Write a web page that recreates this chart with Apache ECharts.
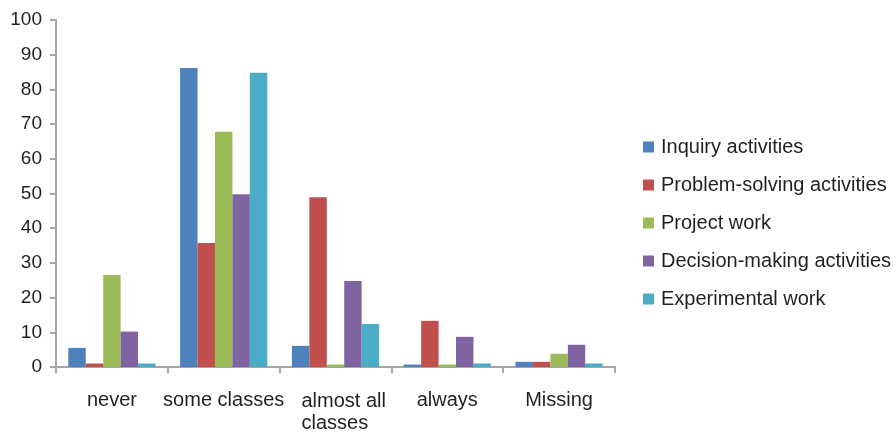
<!DOCTYPE html>
<html>
<head>
<meta charset="utf-8">
<script src="https://cdn.jsdelivr.net/npm/echarts@6/dist/echarts.min.js"></script>
<style>
  html, body { margin: 0; padding: 0; background: #fff; }
  #chart { width: 896px; height: 433px; }
</style>
</head>
<body>
<div id="chart"></div>
<script>
// Frequency categories along the x axis
const categories = ['never', 'some classes', 'almost all classes', 'always', 'Missing'];

// Percentages per activity type
const inquiry      = [5.5, 86.2, 6.1, 0.7, 1.5];
const problemSolve = [1.0, 35.7, 48.9, 13.3, 1.5];
const projectWork  = [26.5, 67.8, 0.7, 0.7, 3.8];
const decisionMake = [10.2, 49.8, 24.8, 8.7, 6.4];
const experimental = [1.0, 84.8, 12.4, 1.0, 1.0];

const seriesNames = [
  'Inquiry activities',
  'Problem-solving activities',
  'Project work',
  'Decision-making activities',
  'Experimental work'
];
const seriesData = [inquiry, problemSolve, projectWork, decisionMake, experimental];
const colors = ['#4F81BD', '#C0504D', '#9BBB59', '#8064A2', '#4BACC6'];

const yTicks = { min: 0, max: 100, interval: 10 };

const textColor = '#231f20';
const axisColor = '#a6a6a6';
const fontFamily = '"Liberation Sans", Arial, Helvetica, sans-serif';

const chart = echarts.init(document.getElementById('chart'));
chart.setOption({
  animation: false,
  color: colors,
  grid: { left: 56, right: 281, top: 20, bottom: 65, containLabel: false },
  legend: {
    orient: 'vertical',
    left: 638,
    top: 132,
    itemWidth: 11,
    itemHeight: 11,
    itemGap: 18,
    icon: 'rect',
    data: seriesNames,
    textStyle: { color: textColor, fontSize: 20, fontFamily: fontFamily, padding: [0, 0, 0, 2] }
  },
  xAxis: {
    type: 'category',
    data: categories,
    axisLine: { lineStyle: { color: axisColor, width: 2 } },
    axisTick: { show: true, length: 6, lineStyle: { color: axisColor, width: 2 } },
    axisLabel: {
      color: textColor,
      fontSize: 20,
      fontFamily: fontFamily,
      margin: 23,
      interval: 0,
      formatter: function (v) {
        if (v === 'almost all classes') return '{l|almost all}\n{l|classes}';
        return v;
      },
      rich: {
        l: {
          width: 84, align: 'left', padding: [0, 0, 0, 16],
          fontSize: 20, fontFamily: fontFamily, color: textColor, lineHeight: 22
        }
      }
    }
  },
  yAxis: {
    type: 'value',
    min: yTicks.min,
    max: yTicks.max,
    interval: yTicks.interval,
    axisLine: { show: true, lineStyle: { color: axisColor, width: 2 } },
    axisTick: { show: true, length: 6, lineStyle: { color: axisColor, width: 2 } },
    splitLine: { show: false },
    axisLabel: { color: textColor, fontSize: 19, fontFamily: fontFamily, margin: 14 }
  },
  series: seriesNames.map((name, i) => ({
    name: name,
    type: 'bar',
    data: seriesData[i],
    barGap: '0%',
    barCategoryGap: '22%'
  }))
});
</script>
</body>
</html>
